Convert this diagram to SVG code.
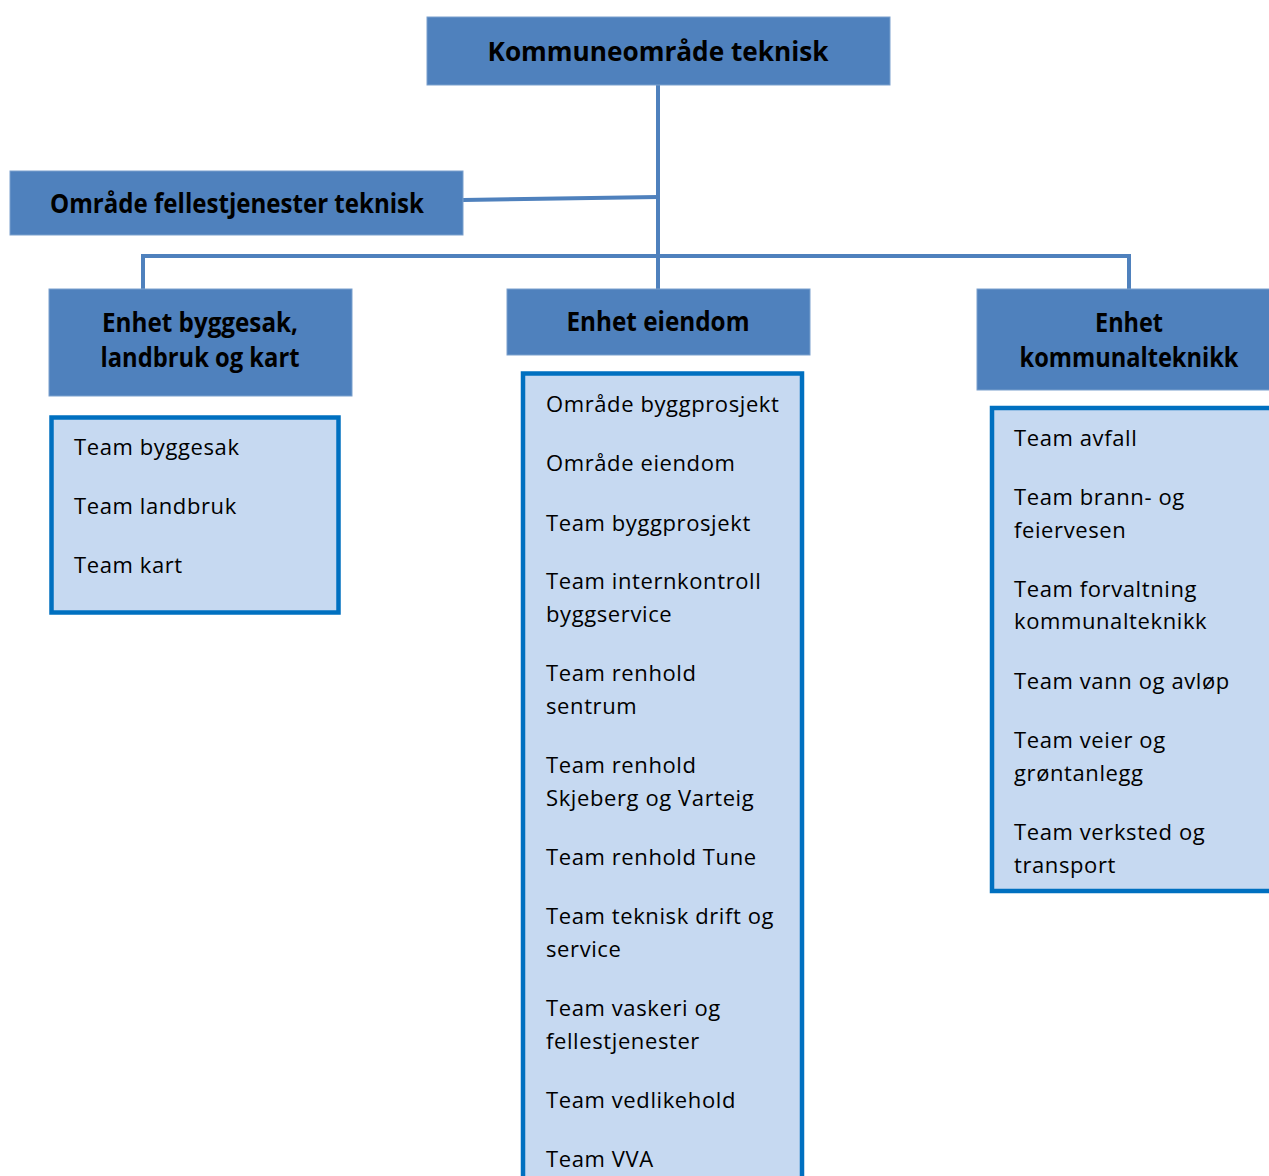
<svg xmlns="http://www.w3.org/2000/svg" width="1269" height="1176" viewBox="0 0 1269 1176">
<style>
.hd{fill:#4F81BD;stroke:#7BA0CD;stroke-width:1}
.ls{fill:#C6D9F1;stroke:#0070C0;stroke-width:4.5}
.ht{font-family:"Open Sans","Liberation Sans",sans-serif;font-weight:bold;font-size:26px;fill:#000;text-anchor:middle}
.lt{font-family:"Open Sans","Liberation Sans",sans-serif;font-size:22px;letter-spacing:0.6px;fill:#000}
.cn{stroke:#4F81BD;stroke-width:4;fill:none}
</style>
<rect width="1269" height="1176" fill="#fff"/>
<g id="connectors">
<line class="cn" x1="658" y1="85" x2="658" y2="289"/>
<line class="cn" x1="463" y1="200" x2="658" y2="197"/>
<polyline class="cn" points="143,289 143,256 1129,256 1129,289"/>
</g>
<g id="top">
<rect class="hd" x="427" y="17" width="463" height="68"/>
<text class="ht" x="658" y="61" textLength="341" lengthAdjust="spacingAndGlyphs">Kommuneområde teknisk</text>
</g>
<g id="felles">
<rect class="hd" x="10" y="171" width="453" height="64"/>
<text class="ht" x="237" y="213" textLength="374" lengthAdjust="spacingAndGlyphs">Område fellestjenester teknisk</text>
</g>
<g id="byggesak">
<rect class="hd" x="49" y="289" width="303" height="107"/>
<text class="ht" x="200" y="332" textLength="196" lengthAdjust="spacingAndGlyphs">Enhet byggesak,</text>
<text class="ht" x="200" y="367" textLength="199" lengthAdjust="spacingAndGlyphs">landbruk og kart</text>
</g>
<g id="byggesak-list">
<rect class="ls" x="51.5" y="417.5" width="287" height="195"/>
<text class="lt" x="74" y="455">Team byggesak</text>
<text class="lt" x="74" y="514">Team landbruk</text>
<text class="lt" x="74" y="573">Team kart</text>
</g>
<g id="eiendom">
<rect class="hd" x="507" y="289" width="303" height="66"/>
<text class="ht" x="658" y="331" textLength="183" lengthAdjust="spacingAndGlyphs">Enhet eiendom</text>
</g>
<g id="eiendom-list">
<rect class="ls" x="523" y="373.5" width="279" height="820"/>
<text class="lt" x="546" y="412">Område byggprosjekt</text>
<text class="lt" x="546" y="471">Område eiendom</text>
<text class="lt" x="546" y="531">Team byggprosjekt</text>
<text class="lt" x="546" y="589">Team internkontroll</text>
<text class="lt" x="546" y="622">byggservice</text>
<text class="lt" x="546" y="681">Team renhold</text>
<text class="lt" x="546" y="714">sentrum</text>
<text class="lt" x="546" y="773">Team renhold</text>
<text class="lt" x="546" y="806">Skjeberg og Varteig</text>
<text class="lt" x="546" y="865">Team renhold Tune</text>
<text class="lt" x="546" y="924">Team teknisk drift og</text>
<text class="lt" x="546" y="957">service</text>
<text class="lt" x="546" y="1016">Team vaskeri og</text>
<text class="lt" x="546" y="1049">fellestjenester</text>
<text class="lt" x="546" y="1108">Team vedlikehold</text>
<text class="lt" x="546" y="1167">Team VVA</text>
</g>
<g id="kommunalteknikk">
<rect class="hd" x="977" y="289" width="300" height="101"/>
<text class="ht" x="1129" y="332" textLength="68" lengthAdjust="spacingAndGlyphs">Enhet</text>
<text class="ht" x="1129" y="367" textLength="219" lengthAdjust="spacingAndGlyphs">kommunalteknikk</text>
</g>
<g id="kommunalteknikk-list">
<rect class="ls" x="992" y="408" width="290" height="483"/>
<text class="lt" x="1014" y="446">Team avfall</text>
<text class="lt" x="1014" y="505">Team brann- og</text>
<text class="lt" x="1014" y="538">feiervesen</text>
<text class="lt" x="1014" y="597">Team forvaltning</text>
<text class="lt" x="1014" y="629">kommunalteknikk</text>
<text class="lt" x="1014" y="689">Team vann og avløp</text>
<text class="lt" x="1014" y="748">Team veier og</text>
<text class="lt" x="1014" y="781">grøntanlegg</text>
<text class="lt" x="1014" y="840">Team verksted og</text>
<text class="lt" x="1014" y="873">transport</text>
</g>
</svg>
